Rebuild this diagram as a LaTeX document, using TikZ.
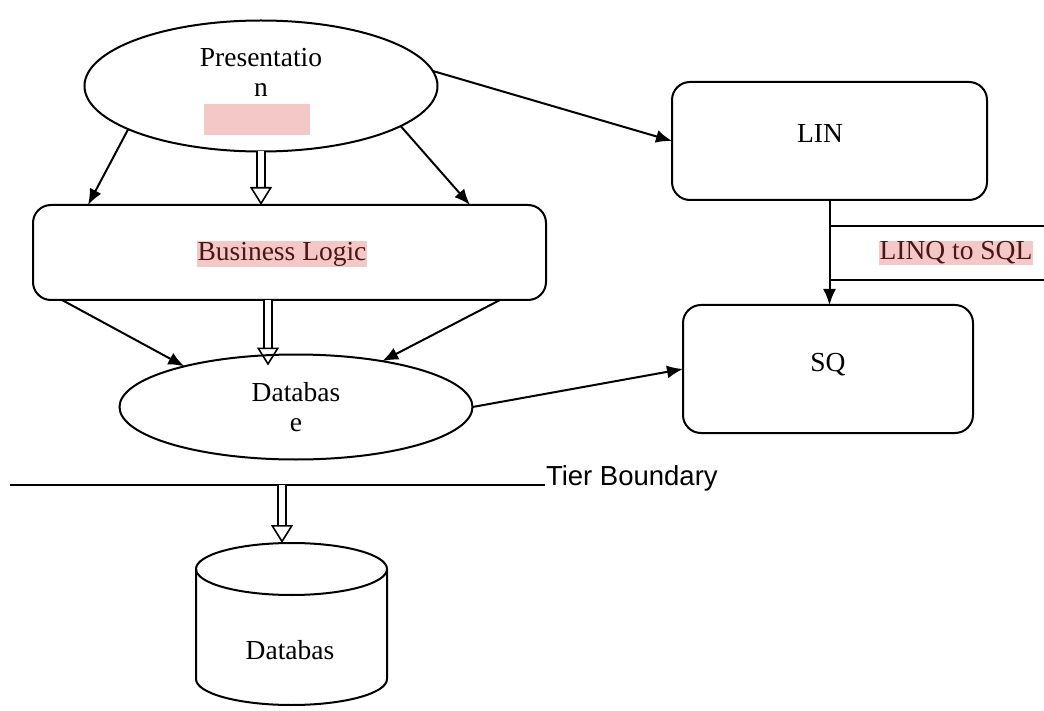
\documentclass[tikz,border=0pt]{standalone}
\usepackage{fontspec}
\setmainfont{Liberation Serif}
\newfontfamily\tierfont{Liberation Sans}
\usetikzlibrary{shapes,shapes.geometric,arrows.meta}
\definecolor{marker}{RGB}{244,200,198}
\definecolor{inkred}{RGB}{75,22,22}
\tikzstyle{oval} = [draw, ellipse, inner sep=0pt, outer sep=0pt]
\tikzstyle{block} = [draw, rectangle, rounded corners=18pt, inner sep=0pt, outer sep=0pt]
\tikzstyle{store} = [rectangle, inner sep=0pt, outer sep=0pt]
\tikzstyle{flow} = [->]
\tikzstyle{pass} = [double, double distance=6.5pt, line width=1.6pt,
    -{Triangle[open, length=18pt, width=22pt]}]
\tikzstyle{hl} = [fill=marker, inner sep=1pt, text=inkred]

\begin{document}
\begin{tikzpicture}[x=1pt, y=-1pt, line width=2pt,
    >={Latex[length=16pt, width=13pt]},
    font=\fontsize{27.5}{30}\selectfont]
    \useasboundingbox (0,0) rectangle (1044,711);
    % We start by placing the blocks
    \node [oval, minimum width=353pt, minimum height=131pt] (pres) at (261,86) {};
    \node [align=center] (prestext) at (261,72) {Presentatio\\n};
    \node [fill=marker, minimum width=106pt, minimum height=31pt] (presmark) at (257,120) {};
    \node [block, minimum width=513pt, minimum height=95pt] (logic) at (289.5,252.5) {};
    \node [hl] (logictext) at (282,254) {Business Logic};
    \node [oval, minimum width=353pt, minimum height=105pt, align=center] (db) at (296,407) {Databas\\e};
    \node [block, minimum width=315pt, minimum height=118pt] (lin) at (829.5,141) {};
    \node (lintext) at (820,133) {LIN};
    \node [block, minimum width=290pt, minimum height=128pt] (sq) at (828,369) {};
    \node (sqtext) at (828,365) {SQ};
    \node [store, minimum width=191pt, minimum height=162pt] (store) at (291.5,624) {};
    \node (storetext) at (290,650) {Databas};

    % The cylinder is drawn round the store node
    \draw ([yshift=-26pt]store.north west) -- ([yshift=26pt]store.south west)
        arc [start angle=180, end angle=360, x radius=95.5pt, y radius=26pt]
        -- ([yshift=-26pt]store.north east);
    \draw ([yshift=-26pt]store.north) ellipse [x radius=95.5pt, y radius=26pt];

    % The tier boundary with its label
    \coordinate (tierstart) at (10,485);
    \node [anchor=base west, inner sep=0pt, font=\tierfont\fontsize{27.5}{30}\selectfont] (tier) at (545,485) {Tier Boundary};
    \draw (tierstart) -- (tier.base west);

    % The LINQ to SQL band on the right edge
    \coordinate (bandtop) at (1044,226);
    \coordinate (bandbottom) at (1044,280);
    \draw (lin.south |- bandtop) -- (bandtop);
    \draw (lin.south |- bandbottom) -- (bandbottom);
    \node [hl] (linq) at (956,253) {LINQ to SQL};

    % Once the nodes are placed, connecting them is easy.
    \draw [flow] (pres.198) -- ([xshift=55pt]logic.north west);
    \draw [flow] (pres.344) -- ([xshift=-76pt]logic.north east);
    \draw [pass] (pres.south) -- (pres.south |- logic.north);
    \draw [flow] ([xshift=29pt]logic.south west) -- (db.160);
    \draw [flow] ([xshift=-46pt]logic.south east) -- (db.28);
    \draw [pass] ([xshift=-21.5pt]logic.south) -- ([xshift=-21.5pt, yshift=-11pt]logic.south |- db.north);
    \draw [flow] (pres.5) -- (lin.west);
    \draw [flow] (db.east) -- (sq.west);
    \draw [flow] (lin.south) -- (lin.south |- sq.north);
    \draw [pass] ([xshift=-9.5pt]store.north |- tierstart) -- ([xshift=-9.5pt]store.north);
\end{tikzpicture}
\end{document}
